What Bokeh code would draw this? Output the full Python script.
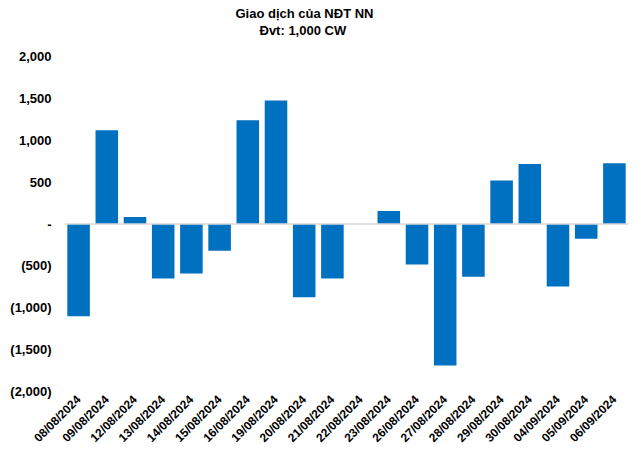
import math
from bokeh.plotting import figure
from bokeh.models import ColumnDataSource, FactorRange, Range1d, Span, FixedTicker, Title
from bokeh.embed import file_html
from bokeh.resources import INLINE

dates = ["08/08/2024", "09/08/2024", "12/08/2024", "13/08/2024", "14/08/2024",
         "15/08/2024", "16/08/2024", "19/08/2024", "20/08/2024", "21/08/2024",
         "22/08/2024", "23/08/2024", "26/08/2024", "27/08/2024", "28/08/2024",
         "29/08/2024", "30/08/2024", "04/09/2024", "05/09/2024", "06/09/2024"]
values = [-1100, 1120, 85, -650, -590, -320, 1240, 1475, -875, -650,
          0, 155, -485, -1690, -630, 520, 715, -745, -175, 725]
y_ticks = [-2000, -1500, -1000, -500, 0, 500, 1000, 1500, 2000]
y_tick_labels = ["(2,000)", "(1,500)", "(1,000)", "(500)", "-", "500", "1,000", "1,500", "2,000"]
title_line1 = "Giao dịch của NĐT NN"
title_line2 = "Đvt: 1,000 CW"

FONT = "Liberation Sans"

source = ColumnDataSource(data=dict(x=dates, top=values))

p = figure(x_range=FactorRange(*dates, range_padding=0), y_range=Range1d(-2000, 2000),
           width=640, height=452, output_backend="svg", toolbar_location=None,
           min_border_left=64, min_border_right=12, min_border_top=56, min_border_bottom=61)
p.title = None

# spacer between the titles and the plot area
p.add_layout(Title(text=" ", align="left", standoff=0, text_font=FONT,
                   text_font_size="15px", text_color="white"), "above")
p.add_layout(Title(text=title_line2, align="left", offset=195, standoff=0, text_font=FONT,
                   text_font_size="13px", text_font_style="bold", text_color="black",
                   text_line_height=0.8), "above")
p.add_layout(Title(text=title_line1, align="left", offset=171, standoff=0, text_font=FONT,
                   text_font_size="13px", text_font_style="bold", text_color="black",
                   text_line_height=0.8), "above")

p.vbar(x="x", top="top", bottom=0, width=0.8, source=source, color="#0070C0", line_color=None)

p.add_layout(Span(location=0, dimension="width", line_color="#d9d9d9", line_width=1.5))

p.xgrid.grid_line_color = None
p.ygrid.grid_line_color = None
p.outline_line_color = None

for ax in (p.xaxis[0], p.yaxis[0]):
    ax.axis_line_color = None
    ax.major_tick_line_color = None
    ax.minor_tick_line_color = None
    ax.major_tick_out = 0
    ax.major_tick_in = 0
    ax.minor_tick_out = 0
    ax.minor_tick_in = 0
    ax.major_label_text_font = FONT
    ax.major_label_text_font_style = "bold"
    ax.major_label_text_color = "black"

p.yaxis[0].major_label_text_font_size = "13px"
p.xaxis[0].major_label_text_font_size = "12px"
p.yaxis[0].ticker = FixedTicker(ticks=y_ticks)
p.yaxis[0].major_label_overrides = {t: l for t, l in zip(y_ticks, y_tick_labels)}
p.yaxis[0].major_label_standoff = 13
p.xaxis[0].major_label_orientation = math.pi / 4
p.xaxis[0].major_label_standoff = 6

open("out.html", "w").write(file_html(p, INLINE))
